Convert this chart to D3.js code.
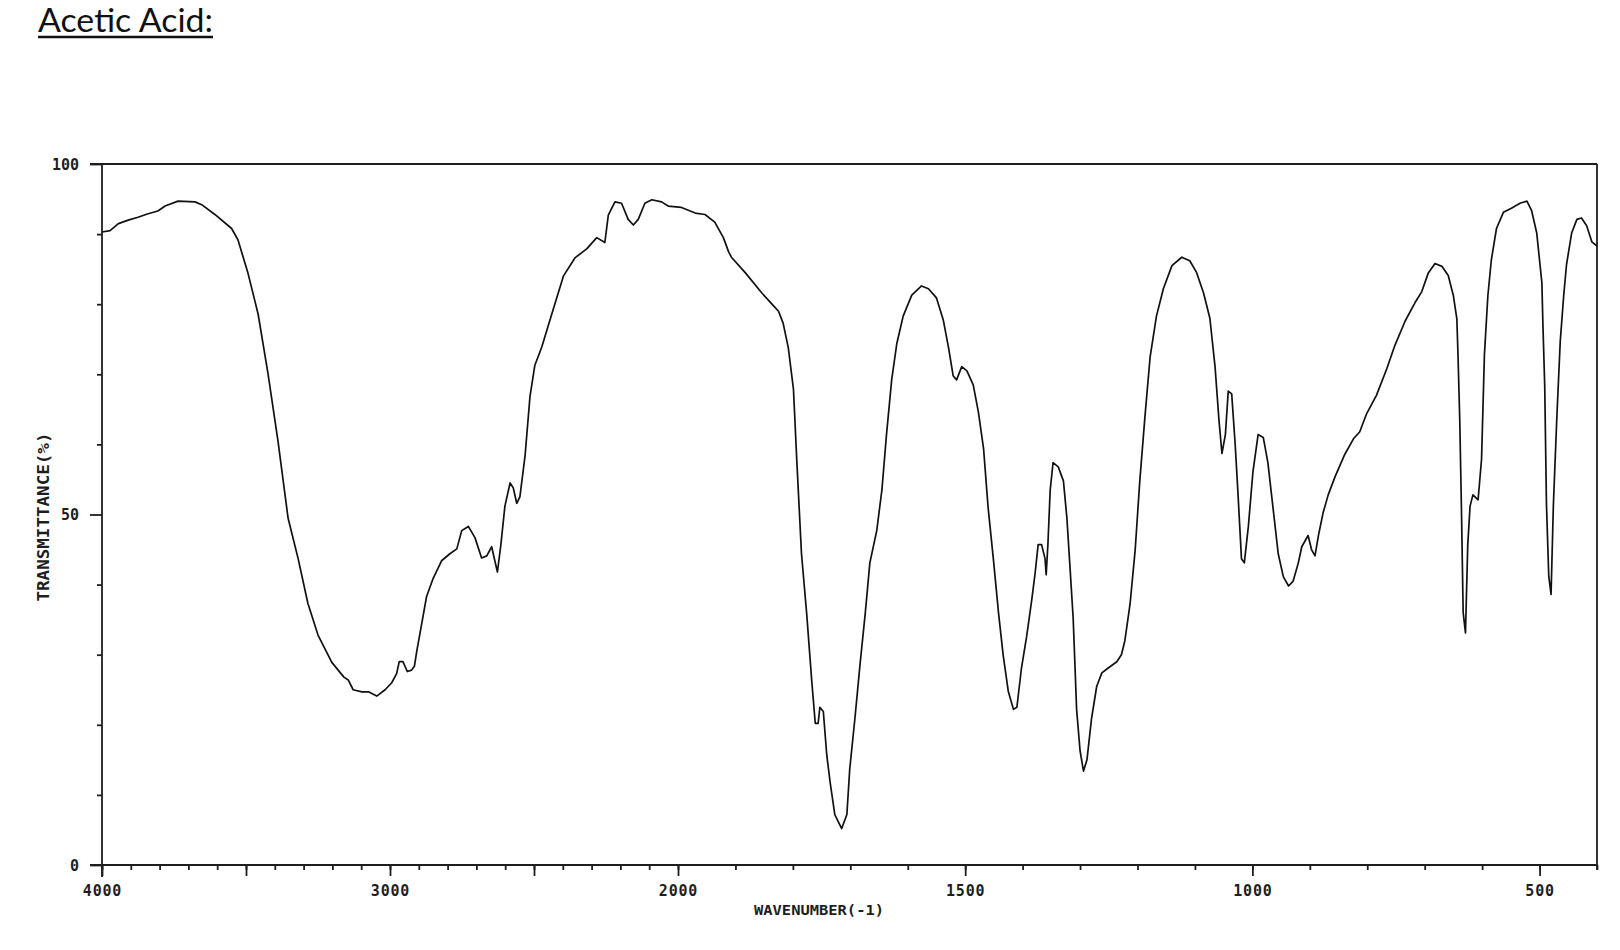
<!DOCTYPE html>
<html><head><meta charset="utf-8">
<script src="https://cdn.jsdelivr.net/npm/d3@7"></script>
<style>body{margin:0;background:#fff;} svg{display:block}</style>
</head><body>
<svg id="c" width="1620" height="950"></svg>
<script>
// ---- data ----
const chartTitle = "Acetic Acid:";
const xTitle = "WAVENUMBER(-1)";
const yTitle = "TRANSMITTANCE(%)";

const wavenumber = [
 4000,3972,3943,3909,3875,3840,3806,3781,3736,3677,3654,3608,3550,3528,3493,3458,3424,3389,3354,3319,3285,3250,3202,3160,3145,3128,3098,3075,3046,3017,2994,2977,2968,2955,2940,2925,2915,2907,2890,2873,2850,2821,2792,2768,2751,2728,2705,2682,2664,2647,2636,2627,2615,2601,2583,2572,2560,2549,2531,2514,2497,2473,2439,2398,2358,2317,2282,2254,2242,2219,2196,2173,2155,2138,2115,2091,2057,2034,1994,
 1970,1953,1936,1921,1912,1907,1883,1854,1834,1825,1817,1808,1799,1793,1785,1776,1767,1761,1756,1753,1747,1741,1735,1727,1715,1706,1701,1692,1683,1674,1666,1654,1645,1637,1628,1619,1608,1593,1576,1564,1550,1538,1529,1521,1515,1506,1497,1486,1477,1468,1460,1451,1442,
 1434,1425,1416,1410,1402,1393,1384,1378,1373,1367,1361,1359,1356,1352,1347,1338,1329,1323,1318,1312,1306,1300,1294,1288,1280,1271,1262,1251,1236,1228,1222,1213,1204,1196,1187,1178,1167,1155,1140,1123,1109,1097,1085,1074,1065,1058,1053,1047,1042,1036,1030,1025,1019,1014,1007,999,990,981,973,964,955,946,937,929,
 920,914,903,897,891,885,877,868,856,839,824,813,801,784,766,752,734,717,705,694,682,670,659,650,644,642,639,636,633,629,625,621,616,607,601,596,590,584,575,563,549,534,522,514,505,496,494,491,488,484,480,476,470,464,458,453,444,435,427,418,409,400
];
const transmittance = [
 90.3,90.5,91.5,92.0,92.4,92.9,93.3,94.0,94.7,94.6,94.2,92.8,90.8,89.2,84.4,78.6,70.2,60.5,49.5,43.7,37.3,32.8,28.9,26.8,26.4,25.0,24.7,24.7,24.1,25.0,26.0,27.3,29.0,29.0,27.6,27.8,28.4,30.5,34.4,38.3,40.9,43.4,44.4,45.1,47.7,48.3,46.7,43.8,44.1,45.4,43.4,41.8,45.7,51.2,54.5,53.8,51.6,52.5,58.4,66.8,71.3,73.9,78.5,84.0,86.6,87.9,89.5,88.8,92.7,94.6,94.4,92.1,91.3,92.1,94.4,94.9,94.6,94.0,93.8,
 93.0,92.8,91.7,89.5,87.5,86.7,84.5,81.6,79.8,79.0,77.3,73.8,67.9,57.4,44.4,35.9,26.1,20.2,20.2,22.5,21.9,15.7,11.7,7.2,5.2,7.2,13.7,20.9,28.7,35.9,43.1,47.7,53.5,61.4,69.2,74.4,78.3,81.3,82.6,82.2,80.9,77.7,73.8,69.8,69.2,71.1,70.5,68.5,64.6,59.4,50.9,43.7,36.0,
 30.0,24.8,22.2,22.5,28.1,32.6,37.9,41.8,45.7,45.7,43.7,41.4,45.7,53.5,57.4,56.8,54.8,49.6,43.1,35.2,22.2,16.3,13.4,15.0,20.9,25.5,27.4,28.1,29.0,30.0,32.0,37.2,45.0,54.8,64.0,72.5,78.3,82.2,85.5,86.7,86.2,84.5,81.6,78.0,71.1,63.3,58.7,61.4,67.6,67.2,60.1,52.9,43.7,43.1,48.3,56.1,61.4,61.0,57.4,50.9,44.4,41.1,39.8,40.5,
 43.1,45.4,47.0,45.0,44.1,47.0,50.2,52.8,55.4,58.6,60.8,61.8,64.4,67.0,70.8,74.1,77.6,80.2,81.8,84.4,85.8,85.4,84.1,81.2,77.9,72.8,63.7,50.8,36.0,33.1,45.7,51.2,52.8,52.1,57.9,72.8,81.2,86.3,90.8,93.1,93.7,94.4,94.7,93.4,90.2,83.1,76.6,68.3,51.5,41.2,38.6,51.2,63.7,74.7,81.2,85.7,90.2,92.1,92.3,91.2,88.9,88.3
];
const xTickLabels = [4000, 3000, 2000, 1500, 1000, 500];
const xLongUnlabeled = [3500, 2500];
const xMinorTicks = d3.range(4000, 399, -100);
const yTickLabels = [0, 50, 100];
const yMinorTicks = [10, 20, 30, 40, 60, 70, 80, 90];

// ---- drawing ----
const svg = d3.select("#c");
const ink = "#1e1e1e";
const x = d3.scaleLinear().domain([4000, 2000, 400]).range([102, 678, 1597]);
const y = d3.scaleLinear().domain([0, 100]).range([865, 164]);
const labelFont = "'DejaVu Sans Mono', monospace";

// title
const t = svg.append("text").attr("x", 38).attr("y", 32)
  .attr("font-family", "Lato, 'Open Sans', sans-serif").attr("font-size", 33.5)
  .attr("fill", "#111").attr("textLength", 175).attr("lengthAdjust", "spacingAndGlyphs")
  .text(chartTitle);
svg.append("line").attr("x1", 38).attr("x2", 213).attr("y1", 37).attr("y2", 37)
  .attr("stroke", "#111").attr("stroke-width", 2.5);

// frame
const frame = svg.append("g").attr("stroke", ink).attr("stroke-width", 1.8).attr("fill", "none");
frame.append("line").attr("x1", 90).attr("x2", x(400)).attr("y1", y(100)).attr("y2", y(100));
frame.append("line").attr("x1", 90).attr("x2", x(400)).attr("y1", y(0)).attr("y2", y(0));
frame.append("line").attr("x1", x(4000)).attr("x2", x(4000)).attr("y1", y(100)).attr("y2", y(0) + 12);
frame.append("line").attr("x1", x(400)).attr("x2", x(400)).attr("y1", y(100)).attr("y2", y(0) + 5);

// x ticks via d3 axes
function styleAxis(g) {
  g.select(".domain").remove();
  g.selectAll(".tick line").attr("stroke", ink).attr("stroke-width", 1.8);
}
svg.append("g").attr("transform", `translate(0,${y(0)})`)
  .call(d3.axisBottom(x).tickValues(xMinorTicks).tickSize(5).tickFormat(""))
  .call(styleAxis);
svg.append("g").attr("transform", `translate(0,${y(0)})`)
  .call(d3.axisBottom(x).tickValues(xLongUnlabeled.concat(xTickLabels)).tickSize(11).tickFormat(""))
  .call(styleAxis);
const xa = svg.append("g").attr("transform", `translate(0,${y(0)})`)
  .call(d3.axisBottom(x).tickValues(xTickLabels).tickSize(0).tickPadding(0).tickFormat(d3.format("d")))
  .call(styleAxis);
xa.selectAll(".tick text").attr("y", 0).attr("dy", 31)
  .attr("font-family", labelFont).attr("font-weight", "bold").attr("font-size", 15)
  .attr("letter-spacing", 0.8).attr("fill", ink);

// y ticks
svg.append("g").attr("transform", `translate(${x(4000)},0)`)
  .call(d3.axisLeft(y).tickValues(yMinorTicks).tickSize(5).tickFormat(""))
  .call(styleAxis);
const ya = svg.append("g").attr("transform", `translate(${x(4000)},0)`)
  .call(d3.axisLeft(y).tickValues(yTickLabels).tickSize(12).tickPadding(11).tickFormat(d3.format("d")))
  .call(styleAxis);
ya.selectAll(".tick text")
  .attr("font-family", labelFont).attr("font-weight", "bold").attr("font-size", 15)
  .attr("fill", ink).attr("dy", "0.36em");

// axis titles
svg.append("text").attr("x", 819).attr("y", 915).attr("text-anchor", "middle")
  .attr("font-family", labelFont).attr("font-weight", "bold").attr("font-size", 14)
  .attr("textLength", 130).attr("lengthAdjust", "spacingAndGlyphs").attr("fill", ink)
  .text(xTitle);
svg.append("text").attr("transform", "translate(49,517) rotate(-90)").attr("text-anchor", "middle")
  .attr("font-family", labelFont).attr("font-weight", "bold").attr("font-size", 15)
  .attr("textLength", 169).attr("lengthAdjust", "spacingAndGlyphs").attr("fill", ink)
  .text(yTitle);

// spectrum
const pts = wavenumber.map((w, i) => [w, transmittance[i]]);
svg.append("path").datum(pts)
  .attr("fill", "none").attr("stroke", "#111").attr("stroke-width", 1.7)
  .attr("stroke-linejoin", "round")
  .attr("d", d3.line().x(d => x(d[0])).y(d => y(d[1])));
</script>
</body></html>
